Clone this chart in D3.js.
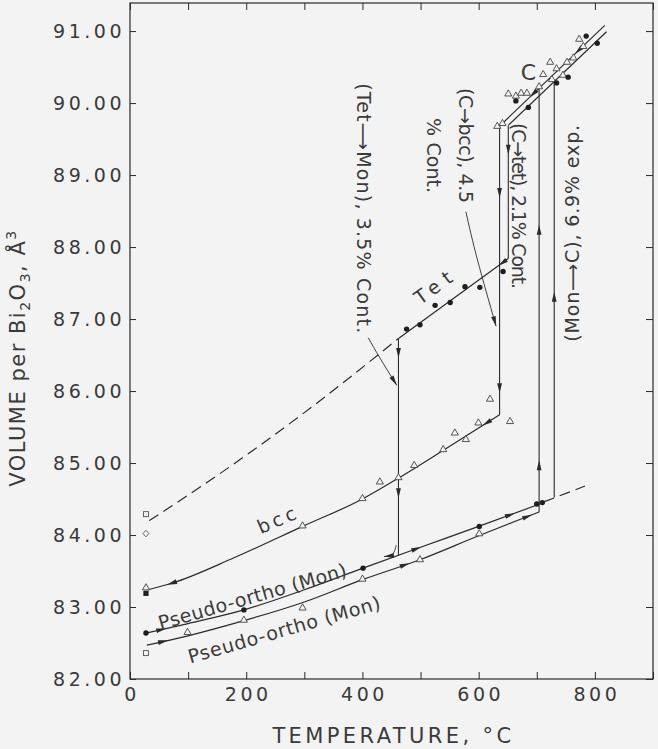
<!DOCTYPE html>
<html><head><meta charset="utf-8">
<script src="https://cdn.jsdelivr.net/npm/d3@7"></script>
<style>
html,body{margin:0;padding:0;background:#f3f3f3;}
svg{display:block;}
text{font-family:"DejaVu Sans",sans-serif;fill:#3a3a3a;font-weight:400;}
</style></head><body>
<svg id="chart" width="658" height="749"></svg>
<script>
// ---------- DATA (temperature °C, volume Å^3) ----------
const xTicks = [0,100,200,300,400,500,600,700,800,900];
const xTickLabels = [0,200,400,600,800];
const yTicks = [82,83,84,85,86,87,88,89,90,91];

// curves
const tetExtrap = [[33,84.20],[138,84.76],[300,85.70],[462,86.73]];        // dashed
const tetLine   = [[462,86.73],[651,87.84]];
const bccLine   = [[31,83.24],[72,83.33],[178,83.68],[297,84.12],[400,84.50],[462,84.79],[540,85.18],[636,85.67]];
const monUpper  = [[29,82.64],[100,82.77],[196,82.96],[300,83.24],[401,83.54],[500,83.83],[600,84.12],[705,84.43]];
const monLower  = [[29,82.47],[100,82.60],[196,82.81],[300,83.07],[400,83.38],[500,83.66],[600,83.99],[704,84.32]];
const monExtrap = [[712,84.46],[783,84.68]];                                // dashed
const cLine1    = [[636,89.68],[817,91.08]];
const cLine2    = [[651,89.69],[820,90.99]];

// vertical transitions: [T, V from, V to]
const transCbcc  = [636, 89.68, 85.67];
const transCtet  = [651, 89.69, 87.84];
const transTetMon= [462, 86.73, 83.72];
const transMonC1 = [704, 84.32, 90.21];
const transMonC2 = [730, 84.52, 90.30];

// arrow positions
const bccArrowsT      = [72, 614];
const monUpperArrowsT = [54, 493, 654];
const monLowerArrowsT = [57, 473, 684];
const tetArrowsT      = [641];
const cLine1ArrowsT   = [694, 772];
const tetMonArrowsV   = [86.53, 84.58];
const cTetArrowsV     = [89.35];
const cBccArrowsV     = [88.75, 86.04];
const monC1ArrowsV    = [84.97, 88.24];
const monC2ArrowsV    = [87.31];

// observed points
const openTriangles = [
 [27.5,83.26],[297,84.12],[400,84.50],[430,84.73],[462,84.79],[489,84.96],[539,85.18],[559,85.41],[578,85.32],[599.5,85.55],[619.5,85.88],[654,85.57],
 [99,82.64],[196,82.81],[297,82.98],[400,83.38],[499,83.65],[601,84.01],
 [632,89.67],[641,89.71],[651,90.12],[664,90.09],[673,90.13],[683,90.13],[704,90.22],[711,90.39],[723,90.56],[726,90.32],[734,90.47],[745,90.38],[752,90.56],[763,90.62],[773,90.88],[780,90.78]
];
const filledCircles = [
 [27.5,82.64],[196,82.96],[401,83.54],[601,84.12],[700,84.43],[709.5,84.45],
 [476,86.86],[499,86.92],[525,87.19],[551,87.23],[576.5,87.45],[602,87.44],[642,87.66],
 [664,90.03],[685.5,89.94],[734,90.28],[754,90.36],[785,90.93],[804,90.83]
];
const filledSquares = [[27.5,83.19]];
const openSquares   = [[27.5,84.29],[27.5,82.36]];
const openDiamonds  = [[27.5,84.02]];

// annotation leaders
const leaderTetMon = [[410,86.74],[430,86.46],[459,86.08]];
const leaderCbcc   = [[578,88.49],[598,87.82],[630,86.90]];
const hookTetMon   = [[458,83.86],[455,83.75],[448,83.71],[437,83.70]];

// text labels
const labelTexts = ["bcc","Pseudo-ortho (Mon)","Pseudo-ortho (Mon)","Tet","C",
  "(Tet\u27F6Mon), 3.5% Cont.","(C\u2192bcc), 4.5","% Cont.","(C\u2192tet), 2.1% Cont.","(Mon\u27F6C), 6.9% exp."];

// ---------- LAYOUT ----------
const INK = "#2a2a2a";
const svg = d3.select("#chart");
svg.append("rect").attr("width",658).attr("height",749).attr("fill","#f3f3f3");

const x = d3.scaleLinear().domain([0,900]).range([130,653]);
const y = d3.scaleLinear().domain([82,91.39]).range([679,3]);

const labelCfg = [
 {t:252, v:84.21, rot:-23, len:40},
 {t:210.5, v:83.15, rot:-16, len:195},
 {t:265, v:82.69, rot:-16, len:199},
 {t:521.5, v:87.44, rot:-36, len:42},
 {t:685.5, v:90.43, rot:0, len:null, size:22},
 {t:402.8, v:88.54, rot:90, len:250},
 {t:578.3, v:89.41, rot:90, len:115},
 {t:523.2, v:89.27, rot:90, len:75},
 {t:669, v:88.57, rot:90, len:166},
 {t:760.7, v:88.19, rot:-90, len:217}
];

// frame
svg.append("rect")
  .attr("x",x(0)).attr("y",y(91.39))
  .attr("width",x(900)-x(0)).attr("height",y(82)-y(91.39))
  .attr("fill","none").attr("stroke",INK).attr("stroke-width",1.2);

function styleAxis(g){
  g.attr("font-family",null).attr("font-size",null);
  g.select(".domain").remove();
  g.selectAll(".tick line").attr("stroke",INK).attr("stroke-width",1);
  g.selectAll(".tick text").attr("fill","#3a3a3a")
    .style("font-size","19px").style("letter-spacing","3.5px");
}
const gl = svg.append("g").attr("transform",`translate(${x(0)},0)`)
  .call(d3.axisLeft(y).tickValues(yTicks).tickFormat(d3.format(".2f")).tickSizeInner(-6).tickSizeOuter(0).tickPadding(5));
styleAxis(gl);
const gb = svg.append("g").attr("transform",`translate(0,${y(82)})`)
  .call(d3.axisBottom(x).tickValues(xTicks).tickFormat(d=>xTickLabels.includes(d)?String(d):"").tickSizeInner(-7).tickSizeOuter(0).tickPadding(9));
styleAxis(gb);
gb.selectAll(".tick text").attr("dx","1.5px");
const gt = svg.append("g").attr("transform",`translate(0,${y(91.39)})`)
  .call(d3.axisTop(x).tickValues(xTicks).tickFormat("").tickSizeInner(-7).tickSizeOuter(0));
styleAxis(gt);
const gr = svg.append("g").attr("transform",`translate(${x(900)},0)`)
  .call(d3.axisRight(y).tickValues(yTicks).tickFormat("").tickSizeInner(-7).tickSizeOuter(0));
styleAxis(gr);

// axis titles
svg.append("text").attr("x",(x(0)+x(900))/2+2).attr("y",743)
  .attr("text-anchor","middle").style("font-size","21px").style("letter-spacing","3.4px")
  .text("TEMPERATURE, °C");
const yt = svg.append("text").attr("transform","translate(25,358) rotate(-90)")
  .attr("text-anchor","middle").style("font-size","21px").style("letter-spacing","1.5px");
yt.append("tspan").text("VOLUME per Bi");
yt.append("tspan").attr("dy",5).style("font-size","14px").text("2");
yt.append("tspan").attr("dy",-5).text("O");
yt.append("tspan").attr("dy",5).style("font-size","14px").text("3");
yt.append("tspan").attr("dy",-5).text(", Å");
yt.append("tspan").attr("dy",-9).style("font-size","14px").text("3");

// ---------- MARKS ----------
const plot = svg.append("g");
const smooth = d3.line().x(d=>x(d[0])).y(d=>y(d[1])).curve(d3.curveMonotoneX);
const straight = d3.line().x(d=>x(d[0])).y(d=>y(d[1]));

function drawPath(data, gen, dashed, w){
  plot.append("path").attr("d",gen(data)).attr("fill","none")
    .attr("stroke",INK).attr("stroke-width",w||1.2)
    .attr("stroke-dasharray",dashed?"11,6":null);
}
drawPath(tetExtrap, smooth, true);
drawPath(monExtrap, straight, true);
drawPath(tetLine, straight);
drawPath(bccLine, smooth);
drawPath(monUpper, smooth);
drawPath(monLower, smooth);
drawPath(cLine1, straight);
drawPath(cLine2, straight);
[transCbcc, transCtet, transTetMon, transMonC1, transMonC2].forEach(tr=>{
  drawPath([[tr[0],tr[1]],[tr[0],tr[2]]], straight, false, 1.1);
});

function arrowHead(px,py,ang){
  plot.append("path").attr("d","M5,0L-5,-2.4L-5,2.4Z")
    .attr("transform",`translate(${px},${py}) rotate(${ang*180/Math.PI})`)
    .attr("fill",INK);
}
function interpV(curve,t){
  for(let i=0;i<curve.length-1;i++){
    const a=curve[i], b=curve[i+1];
    if(t>=a[0] && t<=b[0]) return a[1]+(b[1]-a[1])*(t-a[0])/(b[0]-a[0]);
  }
  return t<curve[0][0]?curve[0][1]:curve[curve.length-1][1];
}
function arrowOnCurve(curve,t,dir){
  const p0=[x(t-3),y(interpV(curve,t-3))], p1=[x(t+3),y(interpV(curve,t+3))];
  let a=Math.atan2(p1[1]-p0[1],p1[0]-p0[0]); if(dir<0) a+=Math.PI;
  arrowHead(x(t),y(interpV(curve,t)),a);
}
function arrowOnVertical(t,v,dir){ arrowHead(x(t),y(v), dir>0?-Math.PI/2:Math.PI/2); }

bccArrowsT.forEach(t=>arrowOnCurve(bccLine,t,-1));
monUpperArrowsT.forEach(t=>arrowOnCurve(monUpper,t,1));
monLowerArrowsT.forEach(t=>arrowOnCurve(monLower,t,1));
tetArrowsT.forEach(t=>arrowOnCurve(tetLine,t,-1));
cLine1ArrowsT.forEach(t=>arrowOnCurve(cLine1,t,-1));
tetMonArrowsV.forEach(v=>arrowOnVertical(transTetMon[0],v,-1));
cTetArrowsV.forEach(v=>arrowOnVertical(transCtet[0],v,-1));
cBccArrowsV.forEach(v=>arrowOnVertical(transCbcc[0],v,-1));
monC1ArrowsV.forEach(v=>arrowOnVertical(transMonC1[0],v,1));
monC2ArrowsV.forEach(v=>arrowOnVertical(transMonC2[0],v,1));

// leaders
function leader(pts, gen){
  plot.append("path").attr("d",gen(pts)).attr("fill","none").attr("stroke",INK).attr("stroke-width",0.9);
  const n=pts.length, e=[x(pts[n-1][0]),y(pts[n-1][1])], s=[x(pts[n-2][0]),y(pts[n-2][1])];
  const a=Math.atan2(e[1]-s[1],e[0]-s[0]);
  arrowHead(e[0]-5*Math.cos(a), e[1]-5*Math.sin(a), a);
}
leader(leaderTetMon, d3.line().x(d=>x(d[0])).y(d=>y(d[1])).curve(d3.curveNatural));
leader(leaderCbcc, d3.line().x(d=>x(d[0])).y(d=>y(d[1])).curve(d3.curveNatural));
leader(hookTetMon, d3.line().x(d=>x(d[0])).y(d=>y(d[1])).curve(d3.curveBasis));

// markers
const tri = d3.symbol().type(d3.symbolTriangle).size(22)();
plot.selectAll(".tri").data(openTriangles).join("path").attr("class","tri")
  .attr("d",tri).attr("transform",d=>`translate(${x(d[0])},${y(d[1])-0.5})`)
  .attr("fill","#f3f3f3").attr("stroke","#444").attr("stroke-width",0.9);
plot.selectAll(".dot").data(filledCircles).join("circle").attr("class","dot")
  .attr("cx",d=>x(d[0])).attr("cy",d=>y(d[1])).attr("r",2.7).attr("fill","#1e1e1e");
plot.selectAll(".fsq").data(filledSquares).join("rect").attr("class","fsq")
  .attr("x",d=>x(d[0])-2.6).attr("y",d=>y(d[1])-2.6).attr("width",5.2).attr("height",5.2).attr("fill","#1e1e1e");
plot.selectAll(".osq").data(openSquares).join("rect").attr("class","osq")
  .attr("x",d=>x(d[0])-2.5).attr("y",d=>y(d[1])-2.5).attr("width",5).attr("height",5)
  .attr("fill","none").attr("stroke","#555").attr("stroke-width",0.9);
plot.selectAll(".odi").data(openDiamonds).join("path").attr("class","odi")
  .attr("d","M0,-3.3L3,0L0,3.3L-3,0Z").attr("transform",d=>`translate(${x(d[0])},${y(d[1])})`)
  .attr("fill","none").attr("stroke","#555").attr("stroke-width",0.9);

// labels
labelTexts.forEach((txt,i)=>{
  const c=labelCfg[i];
  const t=svg.append("text")
    .attr("transform",`translate(${x(c.t)},${y(c.v)}) rotate(${c.rot})`)
    .attr("text-anchor","middle").attr("dominant-baseline","central")
    .style("font-size",(c.size||19)+"px").text(txt);
  if(c.len){ t.attr("textLength",c.len).attr("lengthAdjust","spacing"); }
});
</script></body></html>
